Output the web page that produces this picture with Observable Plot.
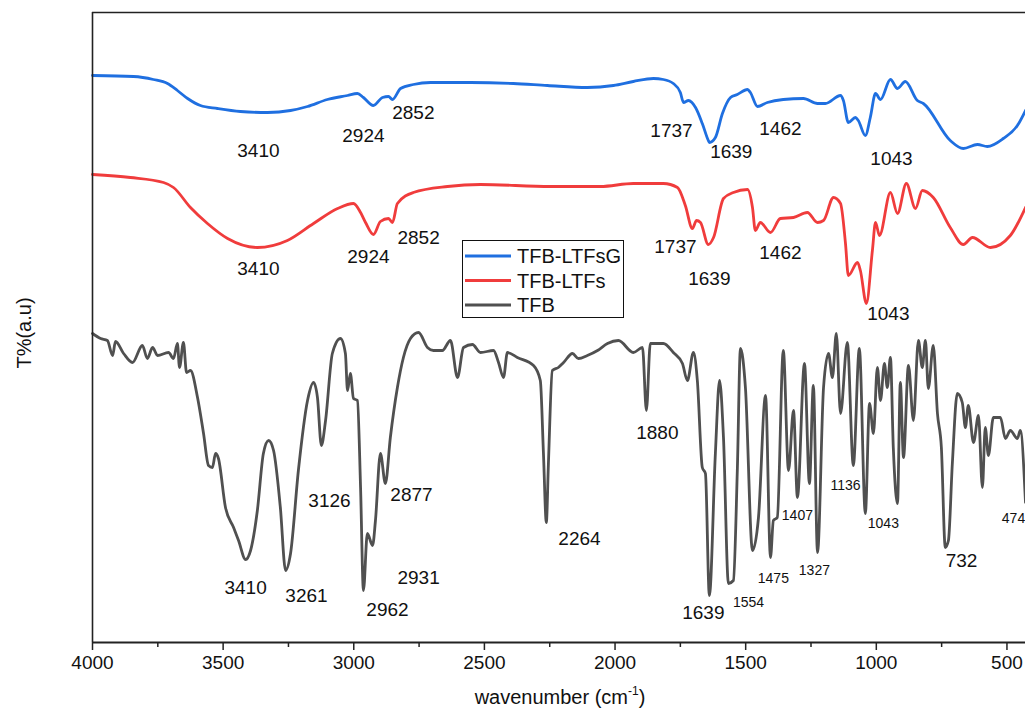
<!DOCTYPE html>
<html><head><meta charset="utf-8">
<script src="https://cdn.jsdelivr.net/npm/d3@7"></script>
<script src="https://cdn.jsdelivr.net/npm/@observablehq/plot@0.6"></script>
<style>body{margin:0;background:#fff} svg{display:block}</style>
</head><body><div id="chart"></div>
<script>
// ---- data (wavenumber in cm-1, transmittance in arbitrary offset units) ----
const seriesNames = ["TFB-LTFsG", "TFB-LTFs", "TFB"];
const seriesColors = ["#1f6fe0", "#f03c3c", "#505050"];

const blueWave = [4000,3843,3767,3713,3675,3636,3587,3522,3434,3330,3242,3177,3101,3024,2986,2963,2925,2890,2867,2852,2821,2772,2706,2553,2389,2259,2106,2006,1930,1853,1815,1777,1750,1738,1719,1692,1666,1643,1639,1616,1589,1558,1532,1493,1482,1455,1417,1356,1279,1225,1195,1137,1126,1107,1080,1069,1042,1023,1003,984,946,919,889,843,820,717,667,613,575,514,460,429];
const blueT = [567,566,563,559,552,544,537,534,531,530,532,536,543,547,549,545,537,545,546,543,554,558,560,560,559,557,555,557,561,564,563,559,550,540,542,535,519,502,500,505,529,545,548,553,550,536,540,543,544,539,539,547,542,520,525,522,507,525,549,543,563,554,561,542,539,502,494,498,496,504,517,532];

const redWave = [4000,3855,3728,3690,3625,3560,3483,3369,3254,3154,3062,3001,2974,2955,2925,2898,2867,2852,2833,2772,2641,2515,2247,2056,1930,1815,1761,1731,1704,1688,1673,1643,1623,1585,1547,1493,1474,1463,1444,1405,1367,1317,1264,1225,1202,1164,1137,1118,1107,1072,1061,1038,1015,1003,988,946,919,885,850,824,782,717,667,632,563,487,429];
const redT = [468,465,460,455,435,419,404,395,402,419,434,439,430,420,408,421,424,420,439,450,456,458,456,456,459,459,455,437,414,422,420,398,405,444,450,453,435,412,420,410,424,425,430,420,422,445,439,399,367,380,372,339,392,420,407,450,429,459,434,452,445,415,398,405,395,407,435];

const grayWave = [4000,3969,3943,3923,3912,3881,3847,3809,3790,3770,3751,3709,3690,3675,3667,3652,3640,3625,3598,3575,3556,3541,3529,3518,3491,3460,3441,3414,3395,3369,3346,3326,3307,3281,3261,3242,3212,3177,3154,3139,3124,3108,3082,3051,3032,3024,3013,3001,2986,2974,2963,2948,2928,2917,2898,2879,2860,2833,2810,2783,2752,2718,2695,2661,2630,2603,2580,2546,2515,2465,2446,2427,2412,2374,2312,2286,2274,2263,2255,2240,2217,2197,2163,2140,2106,2067,2029,1987,1930,1895,1880,1865,1815,1777,1742,1723,1700,1685,1666,1654,1639,1616,1600,1585,1566,1547,1532,1520,1501,1474,1451,1424,1405,1394,1379,1356,1336,1317,1302,1275,1256,1241,1225,1202,1183,1168,1153,1137,1111,1088,1065,1042,1026,1011,996,984,969,958,946,935,919,908,896,877,858,839,824,812,801,782,766,751,736,724,709,690,671,659,648,628,609,594,583,571,552,525,506,487,460,449,429];
const grayT = [309,304,302,287,301,289,280,297,284,295,287,290,284,299,275,300,270,272,245,209,177,175,189,184,135,115,102,83,92,132,189,202,192,135,72,89,172,242,260,245,197,222,289,304,289,252,269,244,242,155,52,109,97,122,189,159,205,255,285,304,310,295,292,292,302,265,295,298,290,292,280,265,290,285,277,262,189,120,179,272,275,280,289,284,287,292,299,302,290,295,232,299,299,290,279,262,290,262,175,169,47,189,262,205,59,62,172,294,255,92,125,247,85,122,125,292,172,232,145,279,159,257,90,255,289,265,309,229,300,177,294,129,239,209,275,242,279,255,285,195,139,260,185,277,222,302,275,302,254,297,229,195,95,102,179,249,240,215,237,200,227,155,215,187,225,225,204,212,204,212,140];

// peak labels
const peakText = ["3410","2924","2852","1737","1639","1462","1043",
                  "3410","2924","2852","1737","1639","1462","1043",
                  "3410","3261","3126","2877","2962","2931","2264","1880","1639","732"];
const peakWave = [3365,2963,2772,1784,1555,1367,942,
                  3365,2944,2752,1769,1639,1367,954,
                  3414,3181,3093,2779,2871,2752,2136,1838,1662,674];
const peakT = [492,507,530,512,491,514,484,
               374,386,405,396,364,390,329,
               55,47,142,148,33,65,104,210,30,82];
const smallText = ["1554","1475","1327","1407","1136","1043","474"];
const smallWave = [1489,1394,1237,1302,1118,973,475];
const smallT = [40,64,72,127,157,119,124];

const majorTicks = [4000,3500,3000,2500,2000,1500,1000,500];
const minorTicks = [3750,3250,2750,2250,1750,1250,750];
const xDomain = [4000, 429];
const yDomain = [0, 630];

// ---- build tables ----
const rows = [];
[[blueWave, blueT], [redWave, redT], [grayWave, grayT]].forEach(([w, t], i) => {
  w.forEach((v, j) => rows.push({series: seriesNames[i], w: v, t: t[j]}));
});
const peaks = peakText.map((s, i) => ({s, w: peakWave[i], t: peakT[i]}));
const smalls = smallText.map((s, i) => ({s, w: smallWave[i], t: smallT[i]}));

const font = "'Liberation Sans', Arial, Helvetica, sans-serif";

const svg = Plot.plot({
  width: 1025, height: 715,
  marginLeft: 92, marginRight: 0, marginTop: 12, marginBottom: 73,
  style: {fontFamily: font, fontSize: "19px", color: "#111", background: "#fff"},
  x: {domain: xDomain, axis: null},
  y: {domain: yDomain, axis: null},
  color: {domain: seriesNames, range: seriesColors},
  marks: [
    Plot.line(rows, {x: "w", y: "t", z: "series", stroke: "series", strokeWidth: 2.8, curve: "monotone-x"}),
    Plot.text(peaks, {x: "w", y: "t", text: "s", fontSize: 19, fill: "#111", lineAnchor: "middle"}),
    Plot.text(smalls, {x: "w", y: "t", text: "s", fontSize: 14, fill: "#111", lineAnchor: "middle"}),
    Plot.ruleX([xDomain[0]], {stroke: "#222", strokeWidth: 1.6}),
    Plot.ruleY([yDomain[1]], {stroke: "#222", strokeWidth: 1.6}),
    Plot.ruleY([yDomain[0]], {stroke: "#222", strokeWidth: 2}),
    Plot.axisX({ticks: majorTicks, tickSize: 8, tickPadding: 5, tickFormat: d => String(d), fontSize: 19, stroke: "#222", strokeWidth: 1.5, label: null}),
    Plot.axisX({ticks: minorTicks, tickSize: 5, tickFormat: () => "", stroke: "#222", strokeWidth: 1.5, label: null})
  ]
});

const s = d3.select(svg);
// x axis title with superscript
const xt = s.append("text").attr("x", 560).attr("y", 704).attr("text-anchor", "middle")
  .attr("font-size", 20).attr("fill", "#111").attr("font-family", font);
xt.append("tspan").text("wavenumber (cm");
xt.append("tspan").attr("font-size", 12).attr("dy", -9).text("-1");
xt.append("tspan").attr("dy", 9).text(")");
// y axis title
s.append("text").attr("transform", "translate(31,333) rotate(-90)").attr("text-anchor", "middle")
  .attr("font-size", 20).attr("fill", "#111").attr("font-family", font).text("T%(a.u)");
// legend
const lg = s.append("g").attr("font-family", font).attr("font-size", 20).attr("text-anchor", "start");
lg.append("rect").attr("x", 462.5).attr("y", 240.5).attr("width", 161).attr("height", 77)
  .attr("fill", "#fff").attr("stroke", "#111").attr("stroke-width", 1);
seriesNames.forEach((n, i) => {
  const y = 256 + i * 24.5;
  lg.append("line").attr("x1", 465).attr("x2", 511).attr("y1", y).attr("y2", y)
    .attr("stroke", seriesColors[i]).attr("stroke-width", 3.2);
  lg.append("text").attr("x", 517).attr("y", y + 7).attr("text-anchor", "start").attr("fill", "#111").text(n);
});
document.getElementById("chart").appendChild(svg);
</script>
</body></html>
